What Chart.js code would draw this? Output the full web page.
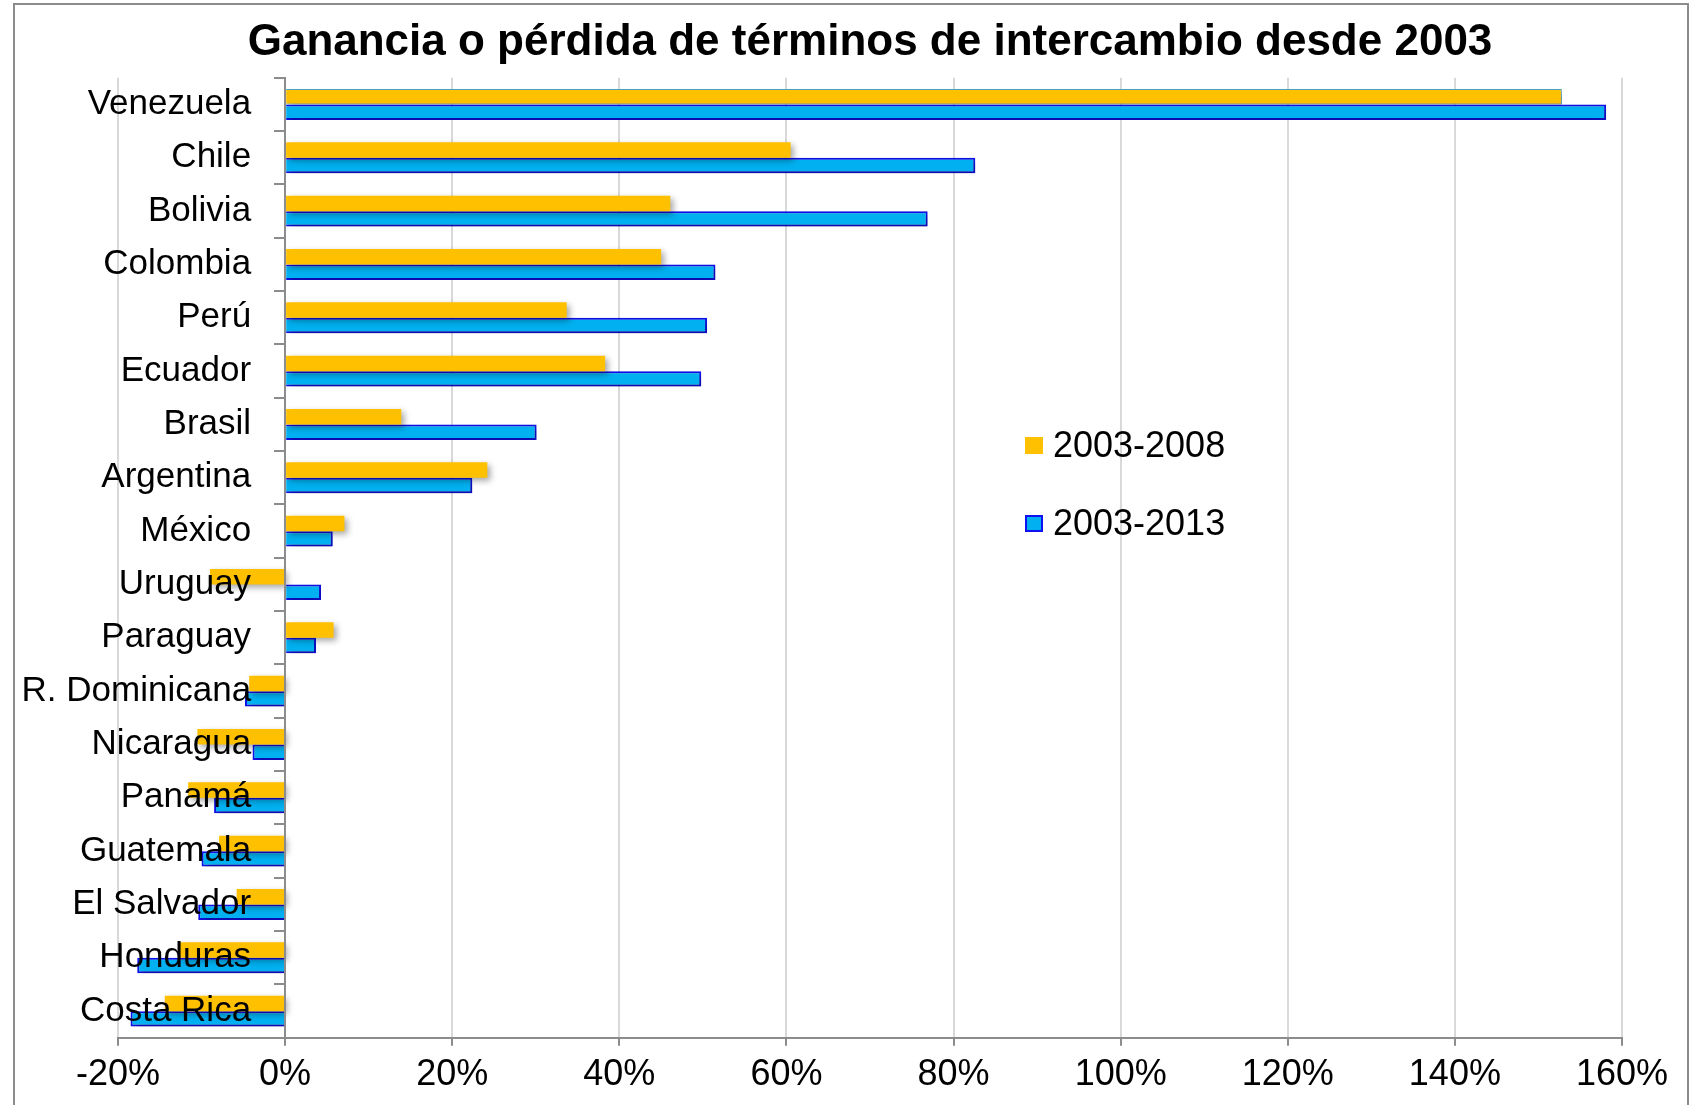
<!DOCTYPE html>
<html>
<head>
<meta charset="utf-8">
<script src="https://cdn.jsdelivr.net/npm/chart.js@4.4.0/dist/chart.umd.min.js"></script>
<style>
  html, body { margin: 0; padding: 0; background: #fff; }
  #wrap { position: relative; width: 1690px; height: 1105px; }
  #legend { position: absolute; left: 1025px; top: 420px; font-family: "Liberation Sans", Arial, sans-serif; font-size: 36px; color: #000; }
  #legend .item { display: flex; align-items: center; height: 50px; margin-bottom: 28px; }
  #legend .box { width: 18px; height: 17px; margin-right: 10px; box-sizing: border-box; }
</style>
</head>
<body>
<div id="wrap">
  <canvas id="chart"></canvas>
  <div id="legend"></div>
</div>
<script>
// Ganancia o pérdida de términos de intercambio desde 2003 (% change)

const countries = ["Venezuela", "Chile", "Bolivia", "Colombia", "Perú", "Ecuador", "Brasil", "Argentina", "México",
    "Uruguay", "Paraguay", "R. Dominicana", "Nicaragua", "Panamá", "Guatemala", "El Salvador", "Honduras", "Costa Rica"];
const serie2008 = [152.8, 60.5, 46.1, 45.0, 33.7, 38.3, 13.9, 24.2, 7.1, -9.0, 5.8, -4.3, -10.5, -11.6, -7.9, -5.8, -12.8, -14.4];
const serie2013 = [158.1, 82.6, 76.9, 51.5, 50.5, 49.8, 30.1, 22.4, 5.7, 4.3, 3.7, -4.8, -3.9, -8.5, -10.0, -10.4, -17.7, -18.5];
const seriesNames = ["2003-2008", "2003-2013"];
const xTicks = [-20, 0, 20, 40, 60, 80, 100, 120, 140, 160];

const font = '"Liberation Sans", Arial, sans-serif';
const labelGap = 34; // space between the 0% axis and the country names

// grey frame around the chart area, like the original
const framePlugin = {
    id: 'frame',
    beforeDraw(chart) {
        const ctx = chart.ctx;
        ctx.save();
        ctx.strokeStyle = '#8c8c8c';
        ctx.lineWidth = 2;
        ctx.beginPath();
        ctx.moveTo(14, chart.height);
        ctx.lineTo(14, 4);
        ctx.lineTo(1688, 4);
        ctx.lineTo(1688, chart.height);
        ctx.stroke();
        ctx.restore();
    }
};

// the y axis sits at 0%, push its labels a bit left of it
const labelShift = {
    id: 'labelShift',
    afterLayout(chart) {
        const items = chart.scales.y.getLabelItems();
        items.forEach((it) => {
            if (!it._moved) {
                it.options.translation[0] -= labelGap;
                it._moved = true;
            }
        });
    }
};

// soft drop shadow under the bars
const shadowPlugin = {
    id: 'barShadow',
    beforeDatasetsDraw(chart) {
        const ctx = chart.ctx;
        ctx.save();
        ctx.shadowColor = 'rgba(0,0,0,0.35)';
        ctx.shadowBlur = 6;
        ctx.shadowOffsetX = 3;
        ctx.shadowOffsetY = 3;
    },
    afterDatasetsDraw(chart) {
        chart.ctx.restore();
    }
};

const cvs = document.getElementById('chart');
const chart = new Chart(cvs, {
    type: 'bar',
    data: {
        labels: countries,
        datasets: [{
            label: seriesNames[0],
            data: serie2008,
            backgroundColor: '#FFC000',
            borderColor: '#4BACC6',
            borderWidth: countries.map((c, i) => i === 0 ? 1 : 0),
            categoryPercentage: 0.58,
            barPercentage: 1
        }, {
            label: seriesNames[1],
            data: serie2013,
            backgroundColor: '#00B0F0',
            borderColor: '#1010F0',
            borderWidth: 2,
            categoryPercentage: 0.58,
            barPercentage: 1
        }]
    },
    plugins: [framePlugin, labelShift, shadowPlugin],
    options: {
        indexAxis: 'y',
        responsive: true,
        maintainAspectRatio: false,
        animation: false,
        layout: {
            padding: { left: 118, right: 68, top: 0, bottom: 0 }
        },
        plugins: {
            legend: { display: false },
            tooltip: { enabled: false },
            title: {
                display: true,
                text: 'Ganancia o pérdida de términos de intercambio desde 2003',
                color: '#000',
                font: { family: font, size: 44, weight: 'bold' },
                padding: { top: 16, bottom: 9 }
            }
        },
        scales: {
            x: {
                min: -20,
                max: 160,
                afterBuildTicks: (scale) => { scale.ticks = xTicks.map(v => ({ value: v })); },
                ticks: {
                    color: '#000',
                    font: { family: font, size: 36 },
                    padding: 8,
                    callback: (v) => v + '%'
                },
                grid: { color: '#d9d9d9', lineWidth: 2, tickColor: '#8c8c8c', tickLength: 8 },
                border: { color: '#8c8c8c', width: 2 }
            },
            y: {
                position: { x: 0 },
                ticks: {
                    z: 2,
                    color: '#000',
                    font: { family: font, size: 35 }
                },
                grid: { drawOnChartArea: false, color: '#8c8c8c', tickLength: 10, lineWidth: 2 },
                border: { color: '#8c8c8c', width: 2, z: 2 }
            }
        }
    }
});

// legend drawn as html, from the dataset settings
const legend = document.getElementById('legend');
chart.data.datasets.forEach((ds, i) => {
    const item = document.createElement('div');
    item.className = 'item';
    const box = document.createElement('span');
    box.className = 'box';
    box.style.background = ds.backgroundColor;
    if (i === 1) box.style.border = ds.borderWidth + 'px solid ' + ds.borderColor;
    const txt = document.createElement('span');
    txt.textContent = ds.label;
    item.appendChild(box);
    item.appendChild(txt);
    legend.appendChild(item);
});
</script>
</body>
</html>
